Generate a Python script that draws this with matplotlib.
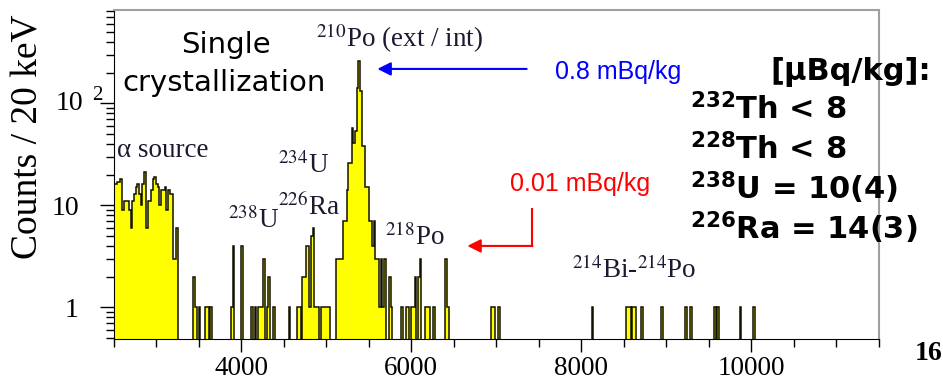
"""Single crystallization alpha spectrum (counts / 20 keV, log scale)."""
import numpy as np
import matplotlib.pyplot as plt

plt.rcParams['font.family'] = 'Liberation Serif'
plt.rcParams['mathtext.fontset'] = 'stix'

# ---- data ----
bin_width = 20          # keV
e_min, e_max = 2500, 11500

# alpha source region, one value per 20 keV bin from 2500 keV
alpha_counts = [16, 16, 17, 17, 18, 9, 11, 11, 11, 9,
                6, 11, 13, 15, 16, 13, 10, 16, 21, 6,
                11, 11, 14, 18, 19, 16, 15, 10, 14, 14,
                15, 9, 14, 13, 13, 3, 3, 6]

# remaining non-empty bins (lower bin edge in keV) and their counts
event_kev = [3440, 3460, 3500, 3580, 3600, 3640, 3880, 3900, 4000, 4120,
             4160, 4200, 4220, 4240, 4260, 4300, 4320, 4380, 4560, 4660,
             4680, 4720, 4740, 4760, 4780, 4800, 4820, 4840, 4860, 4880,
             4900, 4940, 4960, 4980, 5000, 5020,
             5120, 5140, 5160, 5180, 5200, 5220, 5240, 5260, 5280, 5300,
             5320, 5340, 5360, 5380, 5400, 5420, 5440, 5460, 5480, 5500,
             5520, 5540, 5560, 5580, 5600, 5620, 5640, 5660, 5680, 5740,
             5760, 5880, 5940, 5960, 6000, 6020, 6040, 6080, 6100, 6160,
             6180, 6200, 6260, 6400, 6420, 6940, 6960, 7020,
             8120, 8520, 8540, 8560, 8600, 8620, 8700, 8940, 9220, 9280,
             9560, 9600, 9860, 10020]
event_counts = [2, 1, 1, 1, 1, 1, 1, 4, 4, 1,
                1, 1, 1, 1, 3, 1, 2, 1, 1, 1,
                1, 2, 2, 4, 4, 1, 5, 6, 1, 1,
                1, 1, 1, 1, 1, 1,
                3, 3, 3, 3, 7, 7, 14, 26, 26, 57,
                41, 53, 141, 257, 131, 38, 38, 15, 15, 7,
                7, 4, 7, 3, 3, 1, 3, 1, 3, 2,
                1, 1, 1, 1, 1, 1, 2, 2, 3, 1,
                1, 1, 1, 3, 1, 1, 1, 1,
                1, 1, 1, 1, 1, 1, 1, 1, 1, 1,
                1, 1, 1, 1]

results = [r'$^{\mathbf{232}}$Th < 8', r'$^{\mathbf{228}}$Th < 8',
           r'$^{\mathbf{238}}$U = 10(4)', r'$^{\mathbf{226}}$Ra = 14(3)']

# ---- build histogram ----
edges = np.arange(e_min, e_max + bin_width, bin_width)
counts = np.zeros(len(edges) - 1)
counts[:len(alpha_counts)] = alpha_counts
for kev, c in zip(event_kev, event_counts):
    counts[(kev - e_min) // bin_width] = c
floor = 0.05
vals = np.where(counts > 0, counts, floor)

W, H = 943, 381
fig = plt.figure(figsize=(W / 100, H / 100), dpi=100)
ax = fig.add_axes([113.5 / W, 1 - 339 / H, (879 - 113.5) / W, (339 - 10) / H])

ax.stairs(vals, edges, baseline=floor, fill=True, color='#ffff00', lw=0)
ax.stairs(vals, edges, baseline=floor, color='#111100', lw=1.1)

ax.set_yscale('log')
ax.set_xlim(e_min, e_max)
ax.set_ylim(0.49, 820)

ax.set_xticks([4000, 6000, 8000, 10000])
ax.set_xticks(np.arange(e_min, e_max + 1, 500), minor=True)
ax.set_yticks([1, 10, 100])
ax.set_yticklabels(['1', '10', ''])
ax.yaxis.set_minor_locator(plt.matplotlib.ticker.LogLocator(subs=np.arange(2, 10)))
ax.yaxis.set_minor_formatter(plt.NullFormatter())
ax.tick_params(axis='x', which='major', length=9, width=1, labelsize=19.5, pad=3)
ax.tick_params(axis='x', which='minor', length=6, width=1)
ax.tick_params(axis='y', which='major', length=10, width=1, labelsize=20, pad=15)
ax.tick_params(axis='y', which='minor', length=6, width=1)
for side in ['top', 'right']:
    ax.spines[side].set_color('#a0a0a0')
    ax.spines[side].set_linewidth(1.5)


def ftext(x, y, s, **kw):
    """Text placed in figure pixel coordinates (y from top)."""
    return fig.text(x / W, 1 - y / H, s, **kw)


# 10^2 label
ftext(83, 103, '10', fontsize=20, ha='right', va='center')
ftext(92, 95, '2', fontsize=15, ha='left', va='center')

ftext(28, 137, 'Counts / 20 keV', fontsize=27, rotation=90, ha='center', va='center')

sans = dict(family='DejaVu Sans')
ftext(226, 53, 'Single', fontsize=21, ha='center', va='baseline', **sans)
ftext(224, 91, 'crystallization', fontsize=21, ha='center', va='baseline', **sans)

lab = dict(fontsize=19.5, va='baseline', color='#1a1a30')
ftext(117, 157, 'α source', **lab)
ftext(316, 47, r'$^{210}$Po (ext / int)', **lab)
ftext(278, 173, r'$^{234}$U', **lab)
ftext(228, 228, r'$^{238}$U', **lab)
ftext(278, 215, r'$^{226}$Ra', **lab)
ftext(385, 245, r'$^{218}$Po', **lab)
ftext(572, 278, r'$^{214}$Bi-$^{214}$Po', **lab)

ftext(555, 79, '0.8 mBq/kg', fontsize=18, color='#0000ff', family='Liberation Sans', va='baseline')
ftext(510, 191, '0.01 mBq/kg', fontsize=18, color='#ff0000', family='Liberation Sans', va='baseline')

# arrows (data coords)
ax.annotate('', xy=(5570, 217), xytext=(7390, 217),
            arrowprops=dict(arrowstyle='-|>', color='#0000ff', lw=1.5, mutation_scale=20))
ax.plot([7425, 7425], [9.2, 4.0], color='#ff0000', lw=1.5)
ax.annotate('', xy=(6660, 4.0), xytext=(7425, 4.0),
            arrowprops=dict(arrowstyle='-|>', color='#ff0000', lw=1.5, mutation_scale=20,
                            shrinkB=0, shrinkA=0))

bold = dict(fontsize=22, fontweight='bold', family='DejaVu Sans', va='baseline')
ftext(770, 80, '[μBq/kg]:', **bold)
for i, s in enumerate(results):
    t = ftext(690, 119 + 40 * i, s, **bold)
    t.set_math_fontfamily('dejavusans')

ftext(915, 360, '16', fontsize=20, fontweight='bold', va='baseline')

fig.savefig('out.png', dpi=100)
